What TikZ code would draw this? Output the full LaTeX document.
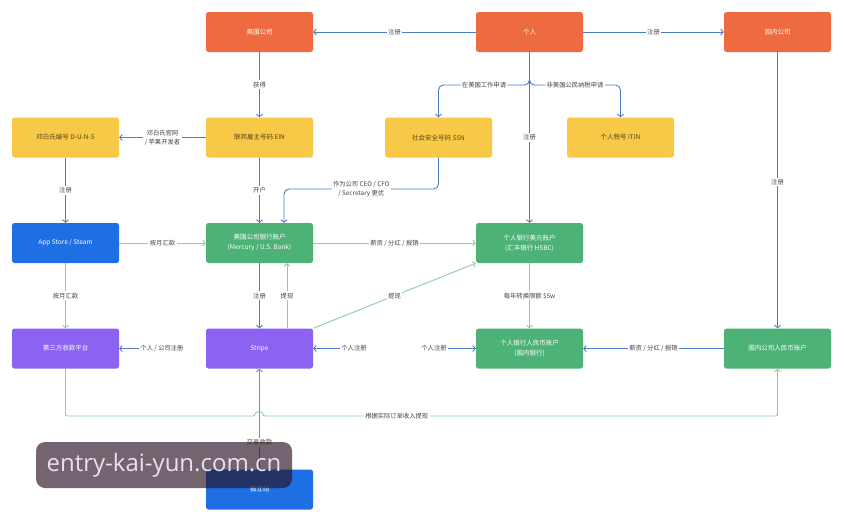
\documentclass[tikz,border=0pt]{standalone}
\usepackage{fontspec}
\setmainfont{Noto Sans CJK SC}
\newfontfamily\wmfont{Open Sans}
\usetikzlibrary{arrows.meta}
\definecolor{cOrange}{HTML}{EE6B41}
\definecolor{cYellow}{HTML}{F8C946}
\definecolor{cBlue}{HTML}{1D6FE3}
\definecolor{cGreen}{HTML}{4DB275}
\definecolor{cPurple}{HTML}{8B62F2}
\definecolor{lBlue}{HTML}{4C7BC4}
\definecolor{lGreen}{HTML}{8FCBAA}
\definecolor{lGray}{HTML}{7F8FA0}
\definecolor{lblText}{HTML}{444444}
\definecolor{yText}{HTML}{5A4320}
\definecolor{wmFill}{HTML}{2A1222}
\definecolor{wmText}{HTML}{E8DFF2}
\tikzset{
  box/.style={minimum width=107pt, minimum height=40pt, rounded corners=2.5pt,
    font=\fontsize{6.5}{10}\selectfont, align=center, inner sep=1pt},
  obox/.style={box, fill=cOrange, text=white},
  ybox/.style={box, fill=cYellow, text=yText},
  bbox/.style={box, fill=cBlue, text=white},
  gbox/.style={box, fill=cGreen, text=white},
  pbox/.style={box, fill=cPurple, text=white},
  conn/.style={draw=lBlue, line width=0.9pt, -{Straight Barb[length=2.5pt,width=6pt]}},
  gconn/.style={conn, draw=lGreen},
  lab/.style={fill=white, font=\fontsize{6.3}{9}\selectfont, text=lblText, inner sep=1.5pt, align=center},
}
\begin{document}
\begin{tikzpicture}[x=1pt,y=-1pt]
\useasboundingbox (0,0) rectangle (844,522);
\fill[white] (0,0) rectangle (844,522);
% nodes
\node[obox] (usco) at (259.5,32) {美国公司};
\node[obox] (per) at (529.5,32) {个人};
\node[obox] (cnco) at (777.5,32) {国内公司};
\node[ybox] (duns) at (65.5,137.5) {邓白氏编号 D-U-N-S};
\node[ybox] (ein) at (259.5,137.5) {联邦雇主号码 EIN};
\node[ybox] (ssn) at (438.5,137.5) {社会安全号码 SSN};
\node[ybox] (itin) at (620.5,137.5) {个人税号 ITIN};
\node[bbox] (app) at (65.5,243) {App Store / Steam};
\node[gbox] (usbank) at (259.5,243) {美国公司银行账户\\(Mercury / U.S. Bank)};
\node[gbox] (hsbc) at (529.5,243) {个人银行美元账户\\(汇丰银行 HSBC)};
\node[pbox] (third) at (65.5,348.5) {第三方收款平台};
\node[pbox] (stripe) at (259.5,348.5) {Stripe};
\node[gbox] (rmb) at (529.5,348.5) {个人银行人民币账户\\(国内银行)};
\node[gbox] (cnrmb) at (777.5,348.5) {国内公司人民币账户};
\node[bbox] (indep) at (259.5,489.5) {独立站};
\coordinate (j1) at (529.5,85);
\coordinate (s1) at (438.5,189);
\coordinate (s2) at (284,189);
\coordinate (x2) at (287,300);
% blue connectors
\draw[conn] (per) -- node[lab]{注册} (usco);
\draw[conn] (per) -- node[lab]{注册} (cnco);
\draw[conn] (usco) -- node[lab]{获得} (ein);
\draw[conn] (ein) -- node[lab]{邓白氏官网\\/ 苹果开发者} (duns);
\draw[conn, rounded corners=5pt] (per.south) -- (j1) -- node[lab]{在美国工作申请} (ssn.north |- j1) -- (ssn.north);
\draw[conn, rounded corners=5pt] (per.south) -- (j1) -- node[lab]{非美国公民纳税申请} (itin.north |- j1) -- (itin.north);
\draw[conn] (per) -- node[lab]{注册} (hsbc);
\draw[conn] (cnco) -- node[lab,pos=0.47]{注册} (cnrmb);
\draw[conn] (duns) -- node[lab]{注册} (app);
\draw[conn] (ein) -- node[lab]{开户} (usbank);
\draw[conn, rounded corners=5pt] (ssn.south) -- (s1) -- node[lab]{作为公司 CEO / CFO\\/ Secretary 更优} (s2) -- (usbank.north -| s2);
\draw[conn] (usbank) -- node[lab]{注册} (stripe);
\draw[conn] (cnrmb) -- node[lab]{薪资 / 分红 / 报销} (rmb);
\node[lab] (l1) at (162,348.5) {个人 / 公司注册};
\node[lab] (l2) at (354,348.5) {个人注册};
\node[lab] (l3) at (434,348.5) {个人注册};
\draw[conn] (l1) -- (third);
\draw[conn] (l2) -- (stripe);
\draw[conn] (l3) -- (rmb);
% green connectors
\draw[gconn] (app) -- node[lab]{按月汇款} (usbank);
\draw[gconn] (usbank) -- node[lab]{薪资 / 分红 / 报销} (hsbc);
\draw[gconn] (app) -- node[lab]{按月汇款} (third);
\draw[gconn] (stripe.north -| x2) -- node[lab]{提现} (usbank.south -| x2);
\draw[gconn] (stripe.north east) -- node[lab]{提现} (hsbc.south west);
\draw[gconn] (hsbc) -- node[lab]{每年转换限额 \$5w} (rmb);
\draw[gconn, rounded corners=2pt] (third.south) -- (65.5,416) -- (255,416) .. controls (255,411) and (263,411) .. (263,416) -- node[lab,pos=0.26]{根据实际订单收入提现} (777.5,416) -- (cnrmb.south);
\draw[conn, draw=lGray] (indep) -- node[lab,pos=0.27]{交易收款} (stripe);
% watermark
\node[fill=wmFill, fill opacity=0.65, text opacity=1, text=wmText, rounded corners=9pt,
  minimum width=256pt, minimum height=46pt, inner sep=0pt, font=\wmfont\fontsize{24}{28}\selectfont]
  (wm) at (164,465) {entry-kai-yun.com.cn};
\end{tikzpicture}
\end{document}
